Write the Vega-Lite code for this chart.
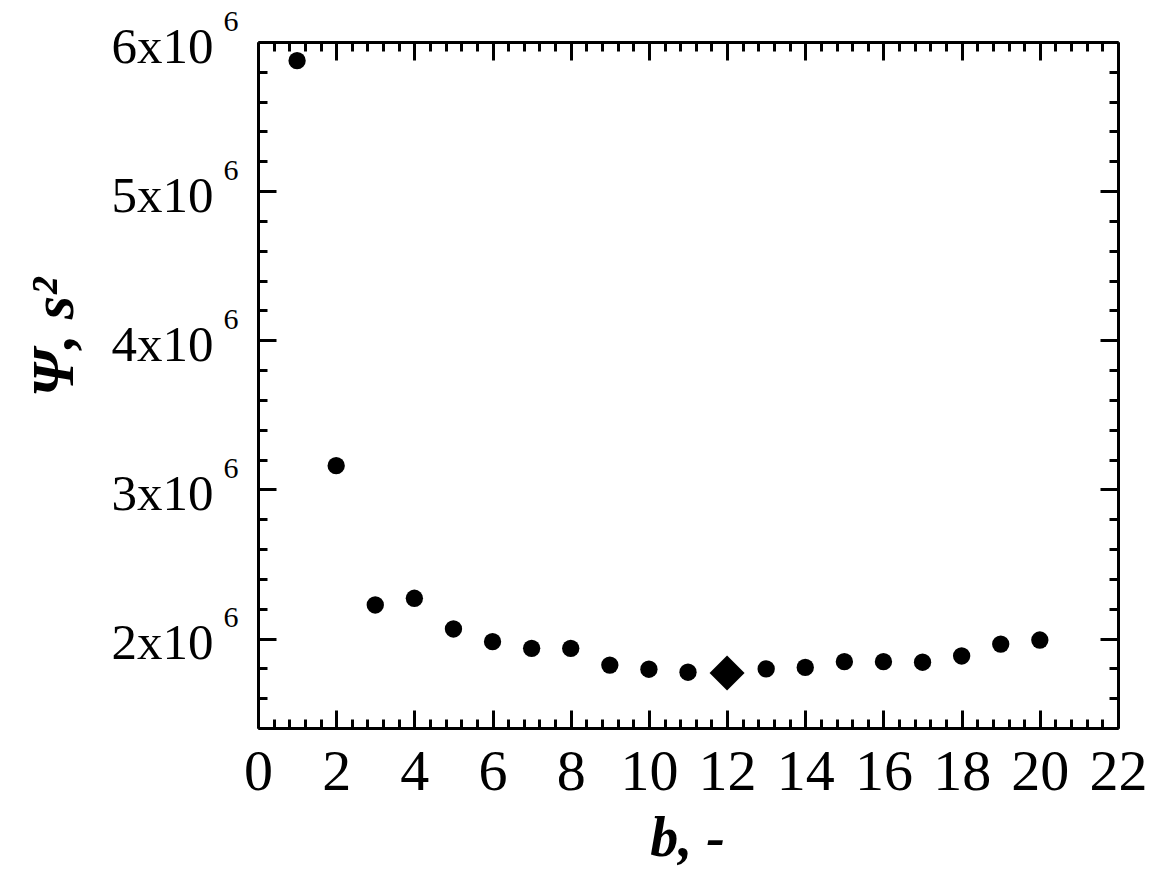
{
  "$schema": "https://vega.github.io/schema/vega-lite/v6.json",
  "width": 860,
  "height": 686,
  "autosize": {"type": "none"},
  "padding": {"left": 258, "top": 42, "right": 44, "bottom": 144},
  "background": "white",
  "config": {
    "view": {"stroke": null},
    "axis": {
      "grid": false,
      "domainColor": "black",
      "domainWidth": 3,
      "tickColor": "black",
      "tickWidth": 3,
      "labelFont": "Liberation Serif",
      "titleFont": "Liberation Serif",
      "labelColor": "black",
      "titleColor": "black",
      "labelFlush": false,
      "labelOverlap": false,
      "labelBound": false
    }
  },
  "data": {
    "values": [
      {"b": 1, "psi": 5875000, "optimal": false},
      {"b": 2, "psi": 3159000, "optimal": false},
      {"b": 3, "psi": 2225000, "optimal": false},
      {"b": 4, "psi": 2270000, "optimal": false},
      {"b": 5, "psi": 2064000, "optimal": false},
      {"b": 6, "psi": 1979000, "optimal": false},
      {"b": 7, "psi": 1934000, "optimal": false},
      {"b": 8, "psi": 1934000, "optimal": false},
      {"b": 9, "psi": 1822000, "optimal": false},
      {"b": 10, "psi": 1794000, "optimal": false},
      {"b": 11, "psi": 1774000, "optimal": false},
      {"b": 12, "psi": 1769000, "optimal": true},
      {"b": 13, "psi": 1796000, "optimal": false},
      {"b": 14, "psi": 1806000, "optimal": false},
      {"b": 15, "psi": 1845000, "optimal": false},
      {"b": 16, "psi": 1845000, "optimal": false},
      {"b": 17, "psi": 1841000, "optimal": false},
      {"b": 18, "psi": 1883000, "optimal": false},
      {"b": 19, "psi": 1963000, "optimal": false},
      {"b": 20, "psi": 1990000, "optimal": false}
    ]
  },
  "layer": [
    {
      "transform": [{"filter": "datum.b < 12"}],
      "mark": {"type": "point", "shape": "circle", "filled": true, "color": "black", "opacity": 1, "size": 300},
      "encoding": {
        "x": {
          "field": "b", "type": "quantitative",
          "scale": {"domain": [0, 22], "nice": false, "zero": false},
          "axis": {
            "orient": "bottom",
            "values": [0,0.4,0.8,1.2,1.6,2,2.4,2.8,3.2,3.6,4,4.4,4.8,5.2,5.6,6,6.4,6.8,7.2,7.6,8,8.4,8.8,9.2,9.6,10,10.4,10.8,11.2,11.6,12,12.4,12.8,13.2,13.6,14,14.4,14.8,15.2,15.6,16,16.4,16.8,17.2,17.6,18,18.4,18.8,19.2,19.6,20,20.4,20.8,21.2,21.6,22],
            "tickSize": {"condition": {"test": "datum.value % 2 === 0", "value": -18}, "value": -9},
            "labelExpr": "datum.value % 2 === 0 ? format(datum.value, 'd') : ''",
            "labelFontSize": 58,
            "labelBaseline": "alphabetic",
            "labelPadding": 79,
            "title": "b, -",
            "titleFontSize": 56,
            "titleFontWeight": "bold",
            "titleFontStyle": "italic",
            "titleBaseline": "alphabetic",
            "titleAnchor": "start",
            "titleAlign": "center",
            "titleX": 429,
            "titleY": 127
          }
        },
        "y": {
          "field": "psi", "type": "quantitative",
          "scale": {"domain": [1400000, 6000000], "nice": false, "zero": false},
          "axis": {
            "orient": "left",
            "values": [1400000,1600000,1800000,2000000,2200000,2400000,2600000,2800000,3000000,3200000,3400000,3600000,3800000,4000000,4200000,4400000,4600000,4800000,5000000,5200000,5400000,5600000,5800000,6000000],
            "tickSize": {"condition": {"test": "datum.value % 1000000 === 0", "value": -18}, "value": -9},
            "labelExpr": "datum.value % 1000000 === 0 ? format(datum.value / 1000000, 'd') + 'x10' : ''",
            "labelFontSize": 51,
            "labelBaseline": "alphabetic",
            "labelAlign": "right",
            "labelOffset": 20,
            "labelPadding": 63,
            "title": "Ψ, s²",
            "titleFontSize": 60,
            "titleFontWeight": "bold",
            "titleFontStyle": "italic",
            "titleBaseline": "alphabetic",
            "titleAnchor": "start",
            "titleAlign": "center",
            "titleAngle": -90,
            "titleX": -186,
            "titleY": 295
          }
        }
      }
    },
    {
      "transform": [{"filter": "datum.optimal"}],
      "mark": {"type": "point", "shape": "diamond", "filled": true, "color": "black", "opacity": 1, "size": 1225},
      "encoding": {
        "x": {
          "field": "b", "type": "quantitative",
          "scale": {"domain": [0, 22], "nice": false, "zero": false},
          "axis": {
            "orient": "top",
            "values": [0,0.4,0.8,1.2,1.6,2,2.4,2.8,3.2,3.6,4,4.4,4.8,5.2,5.6,6,6.4,6.8,7.2,7.6,8,8.4,8.8,9.2,9.6,10,10.4,10.8,11.2,11.6,12,12.4,12.8,13.2,13.6,14,14.4,14.8,15.2,15.6,16,16.4,16.8,17.2,17.6,18,18.4,18.8,19.2,19.6,20,20.4,20.8,21.2,21.6,22],
            "tickSize": {"condition": {"test": "datum.value % 2 === 0", "value": -18}, "value": -9},
            "labels": false,
            "title": null
          }
        },
        "y": {
          "field": "psi", "type": "quantitative",
          "scale": {"domain": [1400000, 6000000], "nice": false, "zero": false},
          "axis": {
            "orient": "right",
            "values": [1400000,1600000,1800000,2000000,2200000,2400000,2600000,2800000,3000000,3200000,3400000,3600000,3800000,4000000,4200000,4400000,4600000,4800000,5000000,5200000,5400000,5600000,5800000,6000000],
            "tickSize": {"condition": {"test": "datum.value % 1000000 === 0", "value": -18}, "value": -9},
            "labels": false,
            "title": null
          }
        }
      }
    },
    {
      "transform": [{"filter": "datum.b > 12"}],
      "mark": {"type": "point", "shape": "circle", "filled": true, "color": "black", "opacity": 1, "size": 300},
      "encoding": {
        "x": {
          "field": "b", "type": "quantitative",
          "scale": {"domain": [0, 22], "nice": false, "zero": false},
          "axis": null
        },
        "y": {
          "field": "psi", "type": "quantitative",
          "scale": {"domain": [1400000, 6000000], "nice": false, "zero": false},
          "axis": {
            "orient": "left",
            "values": [2000000, 3000000, 4000000, 5000000, 6000000],
            "ticks": false,
            "domain": false,
            "labelExpr": "'6'",
            "labelFontSize": 30,
            "labelBaseline": "alphabetic",
            "labelAlign": "right",
            "labelOffset": -12,
            "labelPadding": 20,
            "title": null
          }
        }
      }
    }
  ],
  "resolve": {"axis": {"x": "independent", "y": "independent"}}
}
